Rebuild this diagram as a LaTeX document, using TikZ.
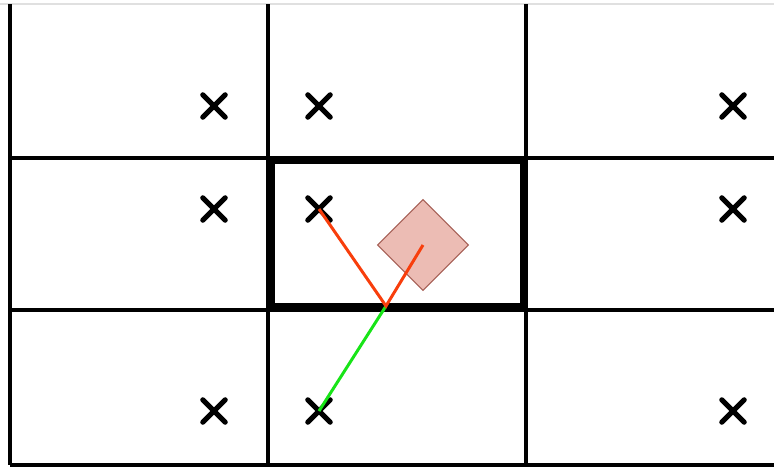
\documentclass[tikz,border=0pt]{standalone}
\usetikzlibrary{shapes.misc,shapes.geometric}
\definecolor{flame}{RGB}{248,62,12}
\definecolor{lime}{RGB}{24,228,24}
\definecolor{salmon}{RGB}{236,188,180}
\definecolor{rust}{RGB}{165,95,85}

\begin{document}
\begin{tikzpicture}[x=0.02cm,y=-0.02cm,
    markx/.style={cross out,draw,line width=3pt,line cap=round,minimum size=0.34cm,inner sep=0pt},
    gridline/.style={line width=2.1pt},
    ray/.style={line width=1.7pt}]
  \useasboundingbox (0,0) rectangle (774,468);
  % grid
  \draw[black!12,line width=0.8pt] (0,4) -- (774,4);
  \draw[gridline] (10,4) -- (10,465) (268,4) -- (268,465) (526,4) -- (526,465);
  \draw[gridline] (10,158) -- (774,158) (10,310) -- (774,310) (10,465) -- (774,465);
  \draw[line width=3.8pt] (272,161) rectangle (523,306);
  % sample points
  \foreach \r/\y in {1/106,2/209,3/411}{
    \foreach \c/\x in {1/214,2/319,3/733}
      \node[markx] (c\r\c) at (\x,\y) {};
  }
  \node[diamond,draw=rust,fill=salmon,line width=0.6pt,aspect=1,inner sep=0pt,
    minimum size=1.82cm] (obj) at (423,245) {};
  \coordinate (hit) at (386,306);
  \draw[ray,lime] (hit) -- (c32.center);
  \draw[ray,flame] (c22.center) -- (hit) -- (obj.center);
\end{tikzpicture}
\end{document}
